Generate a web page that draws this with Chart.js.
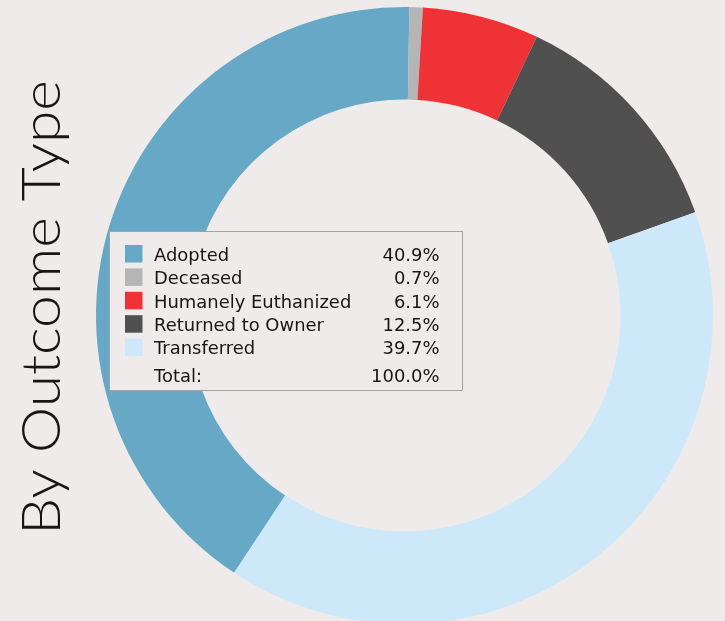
<!DOCTYPE html>
<html>
<head>
<meta charset="utf-8">
<script src="https://cdn.jsdelivr.net/npm/chart.js@4.4.1/dist/chart.umd.min.js"></script>
<style>
  html, body { margin: 0; padding: 0; background: #efebea; overflow: hidden; }
  #wrap { position: relative; width: 725px; height: 621px; overflow: hidden; }
</style>
</head>
<body>
<div id="wrap"><canvas id="chart" width="725" height="640"></canvas></div>
<script>
const categories = ['Adopted', 'Deceased', 'Humanely Euthanized', 'Returned to Owner', 'Transferred'];
const shares = [40.9, 0.7, 6.1, 12.5, 39.7];
const sliceColors = ['#67a8c7', '#b5b5b5', '#ef3236', '#505050', '#cde9f9'];
const totalLabel = 'Total:';
const chartTitle = 'By Outcome Type';

const pageBg = '#efebea';
const textColor = '#161616';

// vertical title on the left
const sideTitle = {
  id: 'sideTitle',
  afterDraw(chart) {
    const ctx = chart.ctx;
    ctx.save();
    ctx.translate(60, 535);
    ctx.rotate(-Math.PI / 2);
    ctx.font = '300 54px Lato, "Open Sans", sans-serif';
    const tw = ctx.measureText(chartTitle).width;
    ctx.scale(455 / tw, 1);
    ctx.fillStyle = textColor;
    ctx.textAlign = 'left';
    ctx.textBaseline = 'alphabetic';
    ctx.fillText(chartTitle, 0, 0);
    ctx.restore();
  }
};

// legend text is a little wider than DejaVu Sans, stretch it slightly
function wideText(ctx, txt, x, y, align) {
  ctx.save();
  ctx.translate(x, y);
  ctx.scale(1.055, 1);
  ctx.textAlign = align;
  ctx.fillText(txt, 0, 0);
  ctx.restore();
}

// boxed legend with percentages, drawn over the ring
const legendBox = {
  id: 'legendBox',
  afterDraw(chart) {
    const ctx = chart.ctx;
    const ds = chart.data.datasets[0];
    const total = ds.data.reduce((a, b) => a + b, 0);
    ctx.save();
    ctx.fillStyle = pageBg;
    ctx.fillRect(109.5, 231.5, 353, 159);
    ctx.strokeStyle = '#a2a2a2';
    ctx.lineWidth = 1;
    ctx.strokeRect(109.5, 231.5, 353, 159);
    ctx.font = '17px "DejaVu Sans", Verdana, sans-serif';
    ctx.textBaseline = 'alphabetic';
    chart.data.labels.forEach((label, i) => {
      const base = 260.7 + i * 23.4;
      ctx.fillStyle = ds.backgroundColor[i];
      ctx.fillRect(125, base - 15.7, 17.5, 17.5);
      ctx.fillStyle = textColor;
      wideText(ctx, label, 154, base, 'left');
      wideText(ctx, (ds.data[i] / total * 100).toFixed(1) + '%', 439.5, base, 'right');
    });
    ctx.fillStyle = textColor;
    wideText(ctx, totalLabel, 154, 381.7, 'left');
    wideText(ctx, (100).toFixed(1) + '%', 439.5, 381.7, 'right');
    ctx.restore();
  }
};

const sum = shares.reduce((a, b) => a + b, 0);

new Chart(document.getElementById('chart'), {
  type: 'doughnut',
  data: {
    labels: categories,
    datasets: [{
      data: shares,
      backgroundColor: sliceColors,
      borderWidth: 0
    }]
  },
  options: {
    responsive: false,
    animation: false,
    cutout: '70%',
    rotation: -shares[0] / sum * 360 + 0.9,
    layout: { padding: { left: 96, right: 12, top: 7, bottom: 16 } },
    plugins: {
      legend: { display: false },
      title: { display: false },
      tooltip: { enabled: false }
    }
  },
  plugins: [sideTitle, legendBox]
});
</script>
</body>
</html>
